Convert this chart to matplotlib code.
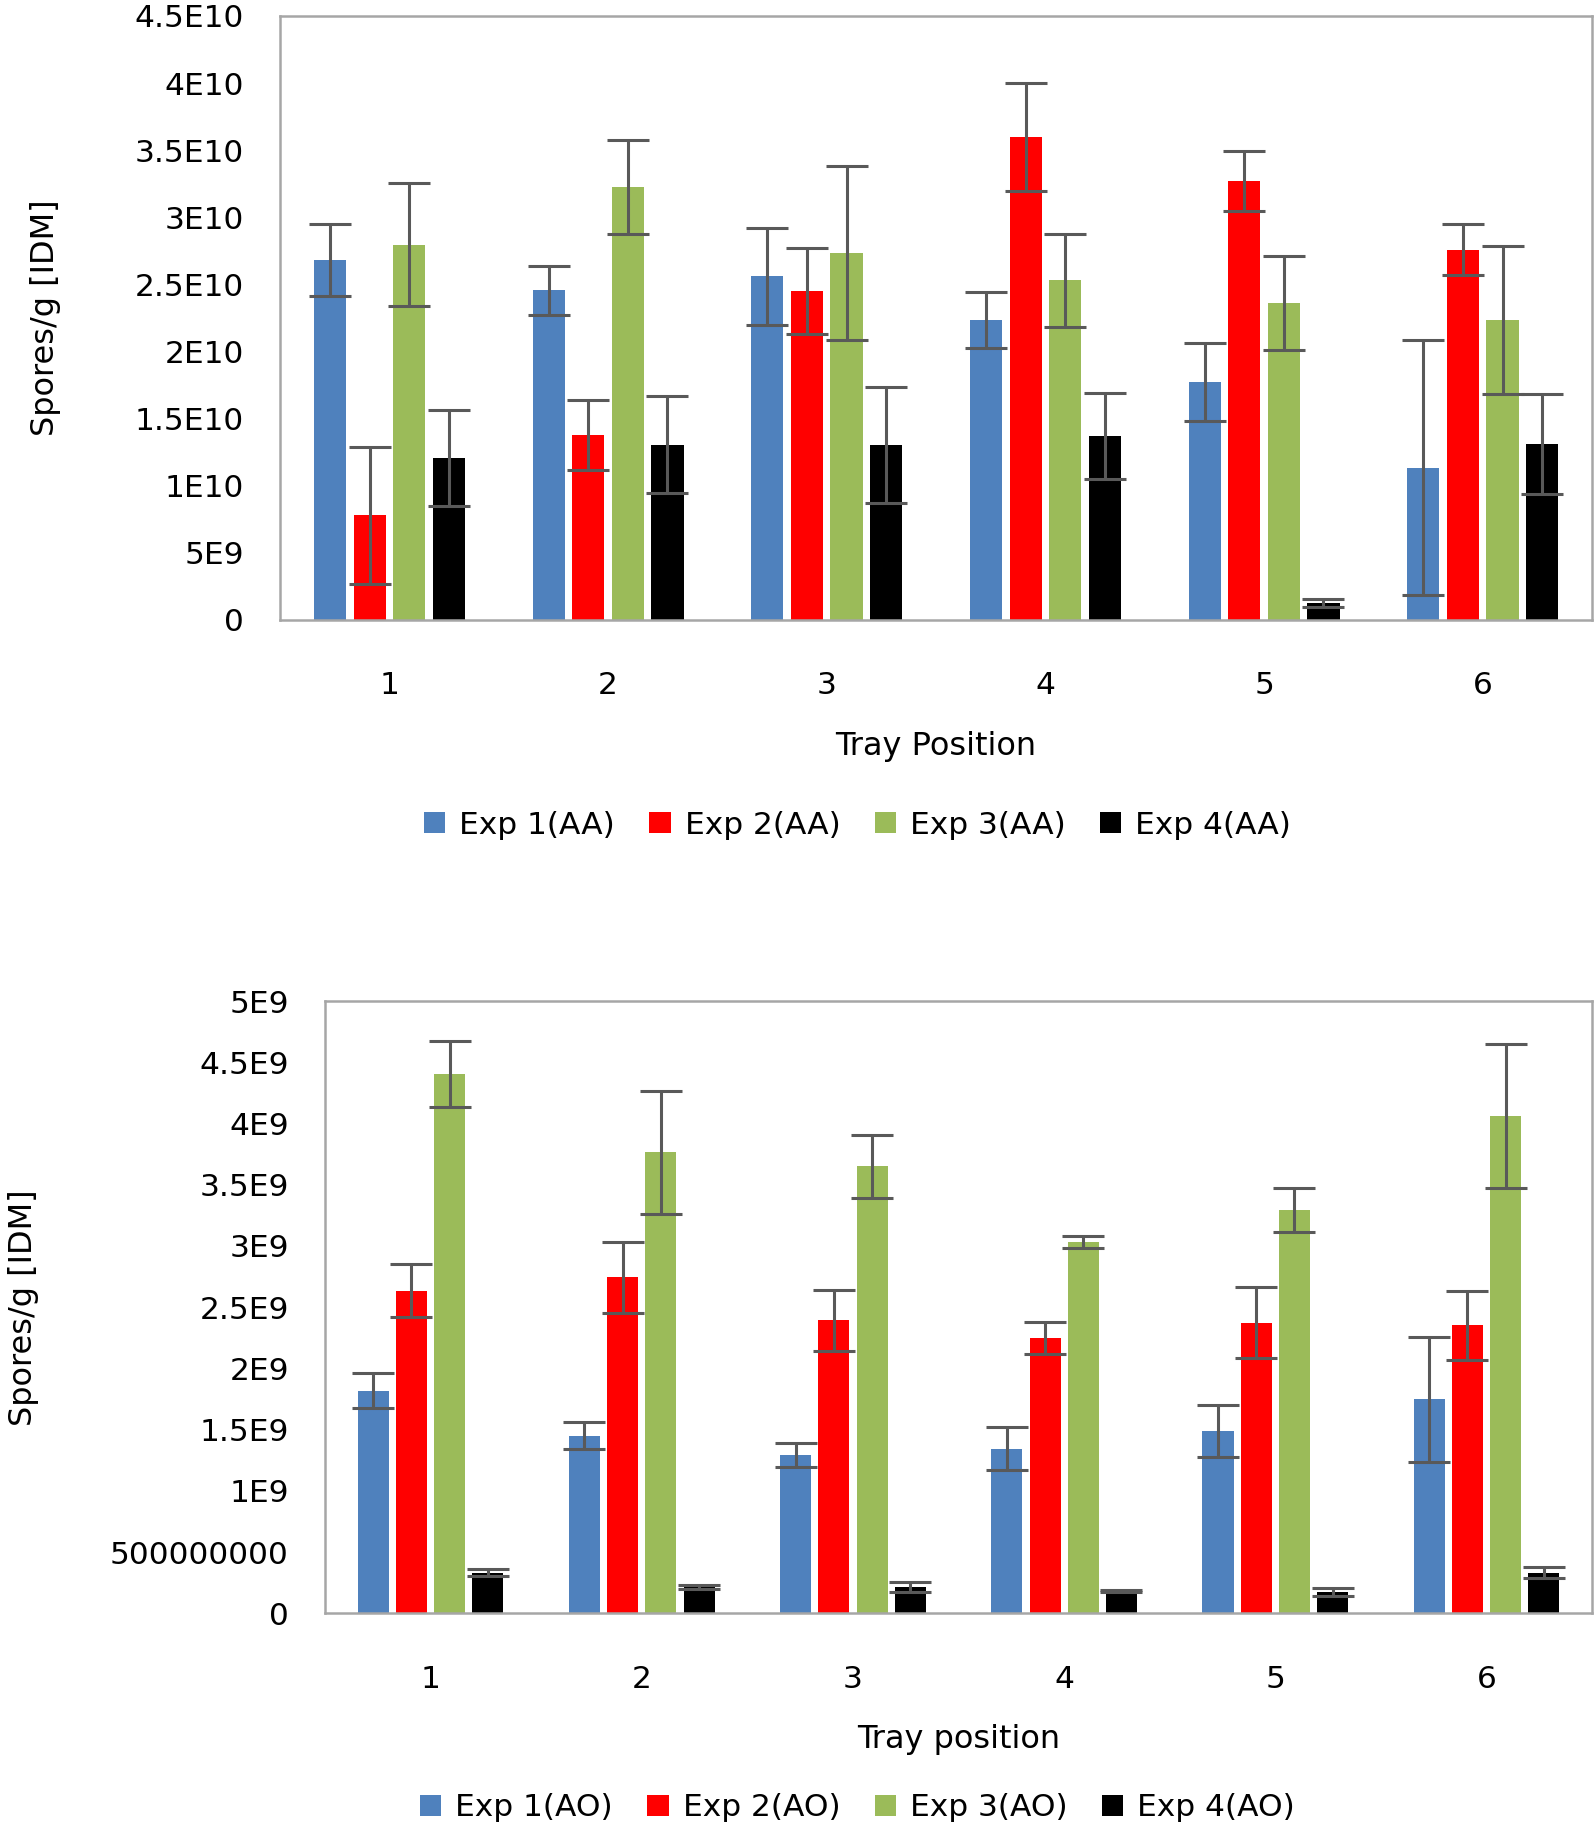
import numpy as np
import matplotlib
matplotlib.use("Agg")
import matplotlib.pyplot as plt

# tray positions
positions = ['1', '2', '3', '4', '5', '6']

# top chart (AA)
aa_labels = ['Exp 1(AA)', 'Exp 2(AA)', 'Exp 3(AA)', 'Exp 4(AA)']
aa_exp1 = [2.68e10, 2.455e10, 2.56e10, 2.236e10, 1.773e10, 1.135e10]
aa_exp2 = [0.78e10, 1.379e10, 2.449e10, 3.599e10, 3.269e10, 2.757e10]
aa_exp3 = [2.797e10, 3.229e10, 2.733e10, 2.529e10, 2.363e10, 2.233e10]
aa_exp4 = [1.206e10, 1.305e10, 1.305e10, 1.369e10, 0.126e10, 1.311e10]
aa_err1 = [0.27e10, 0.18e10, 0.36e10, 0.21e10, 0.29e10, 0.95e10]
aa_err2 = [0.51e10, 0.26e10, 0.32e10, 0.40e10, 0.225e10, 0.19e10]
aa_err3 = [0.46e10, 0.35e10, 0.65e10, 0.35e10, 0.35e10, 0.55e10]
aa_err4 = [0.36e10, 0.36e10, 0.43e10, 0.32e10, 0.03e10, 0.37e10]
aa_ticks = [0, 5e9, 1e10, 1.5e10, 2e10, 2.5e10, 3e10, 3.5e10, 4e10, 4.5e10]
aa_ticklabels = ['0', '5E9', '1E10', '1.5E10', '2E10', '2.5E10', '3E10',
                 '3.5E10', '4E10', '4.5E10']

# bottom chart (AO)
ao_labels = ['Exp 1(AO)', 'Exp 2(AO)', 'Exp 3(AO)', 'Exp 4(AO)']
ao_exp1 = [1.82e9, 1.451e9, 1.292e9, 1.346e9, 1.488e9, 1.749e9]
ao_exp2 = [2.635e9, 2.744e9, 2.392e9, 2.25e9, 2.375e9, 2.351e9]
ao_exp3 = [4.405e9, 3.765e9, 3.65e9, 3.035e9, 3.292e9, 4.06e9]
ao_exp4 = [0.332e9, 0.213e9, 0.217e9, 0.183e9, 0.176e9, 0.332e9]
ao_err1 = [0.14e9, 0.11e9, 0.10e9, 0.175e9, 0.21e9, 0.51e9]
ao_err2 = [0.215e9, 0.29e9, 0.25e9, 0.13e9, 0.29e9, 0.28e9]
ao_err3 = [0.27e9, 0.50e9, 0.26e9, 0.05e9, 0.18e9, 0.59e9]
ao_err4 = [0.03e9, 0.017e9, 0.04e9, 0.005e9, 0.03e9, 0.045e9]
ao_ticks = [0, 5e8, 1e9, 1.5e9, 2e9, 2.5e9, 3e9, 3.5e9, 4e9, 4.5e9, 5e9]
ao_ticklabels = ['0', '500000000', '1E9', '1.5E9', '2E9', '2.5E9', '3E9',
                 '3.5E9', '4E9', '4.5E9', '5E9']

colors = ['#4F81BD', '#FF0000', '#9BBB59', '#000000']
plt.rcParams['font.family'] = ['DejaVu Sans']

fig = plt.figure(figsize=(15.94, 18.32), dpi=100)


def draw(rect, series, errs, labels, ticks, ticklabels, ymax, xlabel,
         ylab_x, leg_y):
    ax = fig.add_axes(rect)
    x = np.arange(len(positions))
    pitch = 0.181
    width = 0.147
    handles = []
    for i in range(4):
        b = ax.bar(x + (i - 1.5) * pitch, series[i], width, color=colors[i],
                   yerr=errs[i], label=labels[i],
                   error_kw=dict(ecolor='#595959', elinewidth=2.2,
                                 capsize=15, capthick=2.2))
        handles.append(b)
    ax.set_xlim(-0.5, 5.5)
    ax.set_ylim(0, ymax)
    ax.set_xticks(x)
    ax.set_xticklabels(positions, fontsize=22.5)
    ax.set_yticks(ticks)
    ax.set_yticklabels(ticklabels, fontsize=22.5)
    ax.tick_params(axis='y', length=0, pad=26)
    ax.tick_params(axis='x', length=0, pad=37)
    for s in ax.spines.values():
        s.set_color('#A6A6A6')
        s.set_linewidth(1.8)
    ax.set_xlabel(xlabel, fontsize=23, labelpad=22)
    ax.set_ylabel('Spores/g [IDM]', fontsize=23)
    ax.yaxis.set_label_coords(ylab_x, 0.5)
    fig.legend(handles, labels, loc='center', bbox_to_anchor=(0.538, leg_y),
               ncol=4, frameon=False, fontsize=22.5, handlelength=0.68,
               handleheight=0.68, handletextpad=0.45, columnspacing=1.1)
    return ax


draw([0.1757, 0.6616, 0.8231, 0.3297],
     [aa_exp1, aa_exp2, aa_exp3, aa_exp4],
     [aa_err1, aa_err2, aa_err3, aa_err4],
     aa_labels, aa_ticks, aa_ticklabels, 4.5e10, 'Tray Position',
     -0.167, 1 - 825 / 1832)

draw([0.2039, 0.1193, 0.7949, 0.3343],
     [ao_exp1, ao_exp2, ao_exp3, ao_exp4],
     [ao_err1, ao_err2, ao_err3, ao_err4],
     ao_labels, ao_ticks, ao_ticklabels, 5e9, 'Tray position',
     -0.226, 1 - 1808 / 1832)

fig.savefig('out.png', dpi=100)
